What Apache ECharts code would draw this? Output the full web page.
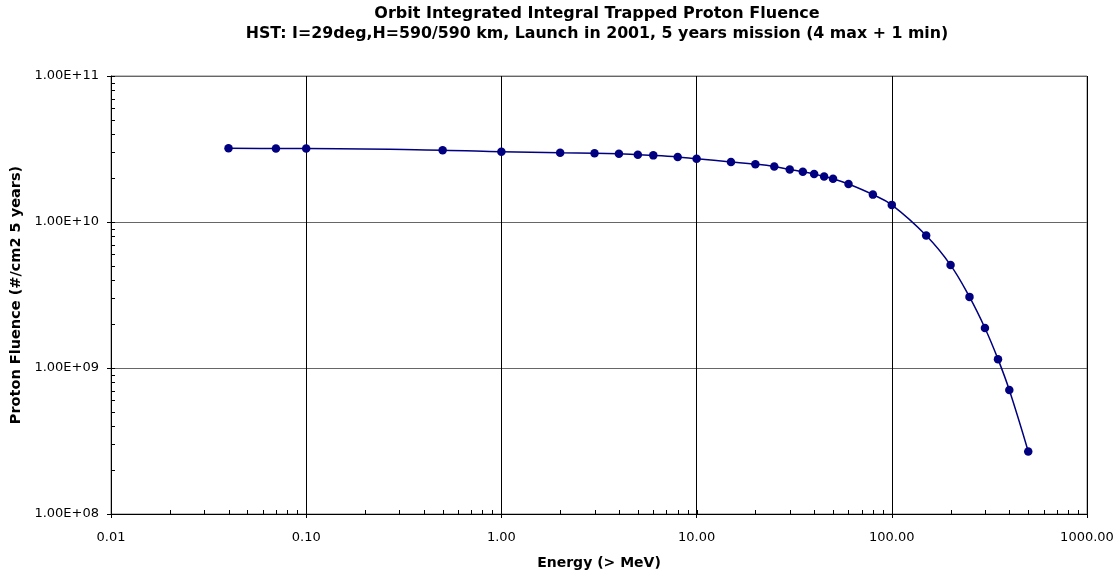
<!DOCTYPE html>
<html>
<head>
<meta charset="utf-8">
<script src="https://cdn.jsdelivr.net/npm/echarts@6/dist/echarts.min.js"></script>
<style>html,body{margin:0;padding:0;background:#fff}#c{width:1119px;height:575px}</style>
</head>
<body>
<div id="c"></div>
<script>
const titleLines = ['Orbit Integrated Integral Trapped Proton Fluence',
  'HST: I=29deg,H=590/590 km, Launch in 2001, 5 years mission (4 max + 1 min)'];
const xAxisTitle = 'Energy (> MeV)';
const yAxisTitle = 'Proton Fluence (#/cm2 5 years)';
const energy = [0.04, 0.07, 0.1, 0.5, 1, 2, 3, 4, 5, 6, 8, 10, 15, 20, 25, 30, 35, 40, 45, 50, 60, 80, 100, 150, 200, 250, 300, 350, 400, 500];
const fluence = [3.2e10, 3.19e10, 3.19e10, 3.10e10, 3.03e10, 2.98e10, 2.96e10, 2.93e10, 2.89e10, 2.86e10, 2.79e10, 2.71e10, 2.58e10, 2.49e10, 2.40e10, 2.29e10, 2.21e10, 2.13e10, 2.05e10, 1.98e10, 1.82e10, 1.54e10, 1.31e10, 8.08e9, 5.07e9, 3.07e9, 1.88e9, 1.15e9, 7.06e8, 2.68e8];
const xMin = 0.01, xMax = 1000, yMin = 1e8, yMax = 1e11;

const FONT = '"DejaVu Sans", "Liberation Sans", Arial, sans-serif';
const seriesData = energy.map((e, i) => [e, fluence[i]]);

// tick values (decade multiples) for inner tick marks
const xTickVals = [], yTickVals = [];
for (let d = xMin; d < xMax * 0.999; d *= 10) for (let k = 1; k <= 9; k++) xTickVals.push([d * k, yMin]);
xTickVals.push([xMax, yMin]);
for (let d = yMin; d < yMax * 0.999; d *= 10) for (let k = 1; k <= 9; k++) yTickVals.push([xMin, d * k]);
yTickVals.push([xMin, yMax]);

function fmtY(v) {
  const e = Math.round(Math.log10(v));
  const m = v / Math.pow(10, e);
  return m.toFixed(2) + 'E+' + (e < 10 ? '0' + e : e);
}

const chart = echarts.init(document.getElementById('c'), null, {renderer: 'canvas'});
chart.setOption({
  animation: false,
  backgroundColor: '#fff',
  graphic: [
    {type: 'text', x: 597, y: 14, style: {text: titleLines[0], font: 'bold 16px ' + FONT, fill: '#000', textAlign: 'center', textVerticalAlign: 'middle'}},
    {type: 'text', x: 597, y: 34, style: {text: titleLines[1], font: 'bold 15.8px ' + FONT, fill: '#000', textAlign: 'center', textVerticalAlign: 'middle'}}
  ],
  grid: {left: 111, right: 32, top: 76, bottom: 59, show: true, borderColor: '#808080', borderWidth: 1, backgroundColor: 'transparent'},
  xAxis: {
    type: 'log', logBase: 10, min: xMin, max: xMax,
    name: xAxisTitle, nameLocation: 'middle', nameGap: 42,
    nameTextStyle: {fontFamily: FONT, fontWeight: 'bold', fontSize: 14, color: '#000'},
    axisLine: {show: true, lineStyle: {color: '#000', width: 1}},
    axisTick: {show: true, inside: false, length: 4, lineStyle: {color: '#000'}},
    axisLabel: {fontFamily: FONT, fontSize: 13, color: '#000', margin: 17, formatter: v => Number(v).toFixed(2)},
    splitLine: {show: true, lineStyle: {color: '#000', width: 1}}
  },
  yAxis: {
    type: 'log', logBase: 10, min: yMin, max: yMax,
    name: yAxisTitle, nameLocation: 'middle', nameGap: 84,
    nameTextStyle: {fontFamily: FONT, fontWeight: 'bold', fontSize: 14.5, color: '#000'},
    axisLine: {show: true, lineStyle: {color: '#000', width: 1}},
    axisTick: {show: true, inside: false, length: 4, lineStyle: {color: '#000'}},
    axisLabel: {fontFamily: FONT, fontSize: 13, color: '#000', margin: 12, formatter: fmtY},
    splitLine: {show: true, lineStyle: {color: '#666', width: 1}}
  },
  series: [
    {
      type: 'custom', silent: true, clip: false, z: 5,
      data: xTickVals,
      renderItem: (params, api) => {
        const p = api.coord([api.value(0), api.value(1)]);
        const x = Math.round(p[0]) + 0.5;
        return {type: 'line', shape: {x1: x, y1: p[1], x2: x, y2: p[1] - 4}, style: {stroke: '#000', lineWidth: 1}};
      }
    },
    {
      type: 'custom', silent: true, clip: false, z: 5,
      data: yTickVals,
      renderItem: (params, api) => {
        const p = api.coord([api.value(0), api.value(1)]);
        const y = Math.round(p[1]) + 0.5;
        return {type: 'line', shape: {x1: p[0], y1: y, x2: p[0] + 4, y2: y}, style: {stroke: '#000', lineWidth: 1}};
      }
    },
    {
      type: 'line', data: seriesData, smooth: 0.4, z: 10,
      symbol: 'circle', symbolSize: 8.5,
      lineStyle: {color: '#000080', width: 1.5},
      itemStyle: {color: '#000080', borderWidth: 0}
    }
  ]
});
</script>
</body>
</html>
